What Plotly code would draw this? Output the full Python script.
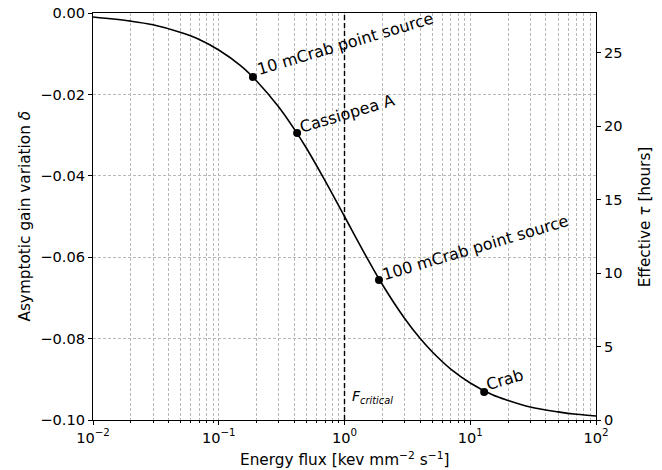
import numpy as np
import plotly.graph_objects as go

# Curve
flux = [0.01, 0.02, 0.03, 0.05, 0.07, 0.1, 0.15, 0.2, 0.3, 0.4, 0.5, 0.7, 1.0,
        1.5, 2.0, 3.0, 4.0, 5.0, 7.0, 10.0, 15.0, 20.0, 30.0, 50.0, 70.0, 100.0]
delta = [-0.0010, -0.0020, -0.0029, -0.0048, -0.0065, -0.0091, -0.0130, -0.0167,
         -0.0231, -0.0286, -0.0333, -0.0412, -0.0500, -0.0600, -0.0667, -0.0750,
         -0.0800, -0.0833, -0.0875, -0.0909, -0.0938, -0.0952, -0.0968, -0.0980,
         -0.0986, -0.0990]

# Sources
src_names = ["10 mCrab point source", "Cassiopea A", "100 mCrab point source", "Crab"]
src_flux = [0.187, 0.42, 1.88, 12.9]
src_delta = [-0.0157, -0.0295, -0.0656, -0.0931]

F_critical = 1.0
tau_max = 27.7

xtick_vals = [0.01, 0.1, 1, 10, 100]
xtick_text = ["10<sup>−2</sup>", "10<sup>−1</sup>", "10<sup>0</sup>", "10<sup>1</sup>", "10<sup>2</sup>"]
xminor_vals = [m * d for d in [0.01, 0.1, 1, 10] for m in range(2, 10)]
ytick_vals = [0.0, -0.02, -0.04, -0.06, -0.08, -0.10]
ytick_text = ["0.00", "−0.02", "−0.04", "−0.06", "−0.08", "−0.10"]
y2tick_vals = [0, 5, 10, 15, 20, 25]

FONT = "DejaVu Sans"
GRID = "#b8b8b8"
TICKF = 14.6
LABF = 15.3
ANNF = 16
fig = go.Figure()

fig.add_trace(go.Scatter(x=flux, y=delta, mode="lines", line=dict(color="black", width=1.6, shape="spline"),
                         showlegend=False, hoverinfo="skip"))
fig.add_trace(go.Scatter(x=[F_critical, F_critical], y=[ytick_vals[-1], ytick_vals[0]], mode="lines",
                         line=dict(color="black", width=1.4, dash="5px,3px"), showlegend=False))
fig.add_trace(go.Scatter(x=src_flux, y=src_delta, mode="markers",
                         marker=dict(color="black", size=8), showlegend=False))
fig.add_trace(go.Scatter(x=[None], y=[None], yaxis="y2", showlegend=False))

offsets = [(93, 33), (50, 20), (97, 32), (21, 12)]
for name, fx, dy, (xs, ys) in zip(src_names, src_flux, src_delta, offsets):
    fig.add_annotation(x=np.log10(fx), y=dy, text=name, showarrow=False, xshift=xs, yshift=ys,
                       textangle=-16.5, xanchor="center", yanchor="middle",
                       font=dict(family=FONT, size=ANNF, color="black"))

fig.add_annotation(x=np.log10(F_critical), y=-0.0943, text="<i>F<sub>critical</sub></i>", showarrow=False,
                   xanchor="left", yanchor="middle", xshift=5,
                   font=dict(family=FONT, size=14, color="black"))

# Axis titles
fig.add_annotation(xref="paper", yref="paper", x=0.5, y=-0.096, yanchor="middle", xanchor="center",
                   text="Energy flux [kev mm<sup>−2</sup> s<sup>−1</sup>]", showarrow=False,
                   font=dict(family=FONT, size=LABF, color="black"))
fig.add_annotation(xref="paper", yref="paper", x=-0.137, y=0.5, yanchor="middle", xanchor="center",
                   text="Asymptotic gain variation <i>δ</i>", showarrow=False, textangle=-90,
                   font=dict(family=FONT, size=LABF, color="black"))
fig.add_annotation(xref="paper", yref="paper", x=1.097, y=0.5, yanchor="middle", xanchor="center",
                   text="Effective <i>τ</i> [hours]", showarrow=False, textangle=-90,
                   font=dict(family=FONT, size=LABF, color="black"))

fig.update_layout(
    width=662, height=470,
    margin=dict(l=93, r=66, t=13, b=50, autoexpand=False),
    paper_bgcolor="white", plot_bgcolor="white",
    font=dict(family=FONT, size=TICKF, color="black"),
    xaxis=dict(type="log", range=[-2, 2], tickmode="array", tickvals=xtick_vals, ticktext=xtick_text,
               showline=True, linecolor="black", linewidth=1.2, mirror=True,
               ticks="outside", ticklen=4, tickwidth=1, tickcolor="black",
               showgrid=True, gridcolor=GRID, griddash="3px,2px", gridwidth=0.8,
               minor=dict(tickmode="array", tickvals=xminor_vals, showgrid=True, gridcolor=GRID,
                          griddash="3px,2px", gridwidth=0.8,
                          ticks="outside", ticklen=2, tickcolor="black"),
               zeroline=False, automargin=False),
    yaxis=dict(range=[-0.1, 0.0], tickmode="array", tickvals=ytick_vals, ticktext=ytick_text,
               showline=True, linecolor="black", linewidth=1.2, mirror=True,
               ticks="outside", ticklen=4, tickwidth=1, tickcolor="black",
               showgrid=True, gridcolor=GRID, griddash="3px,2px", gridwidth=0.8,
               zeroline=False, automargin=False),
    yaxis2=dict(range=[0, tau_max], tickmode="array", tickvals=y2tick_vals, overlaying="y", side="right",
                showline=True, linecolor="black", linewidth=1.2,
                ticks="outside", ticklen=4, tickwidth=1, tickcolor="black",
                showgrid=False, zeroline=False, automargin=False),
)

fig.write_html("out.html", config={"displayModeBar": False},
               post_script="document.body.style.margin='0px';document.body.style.overflow='hidden';")
